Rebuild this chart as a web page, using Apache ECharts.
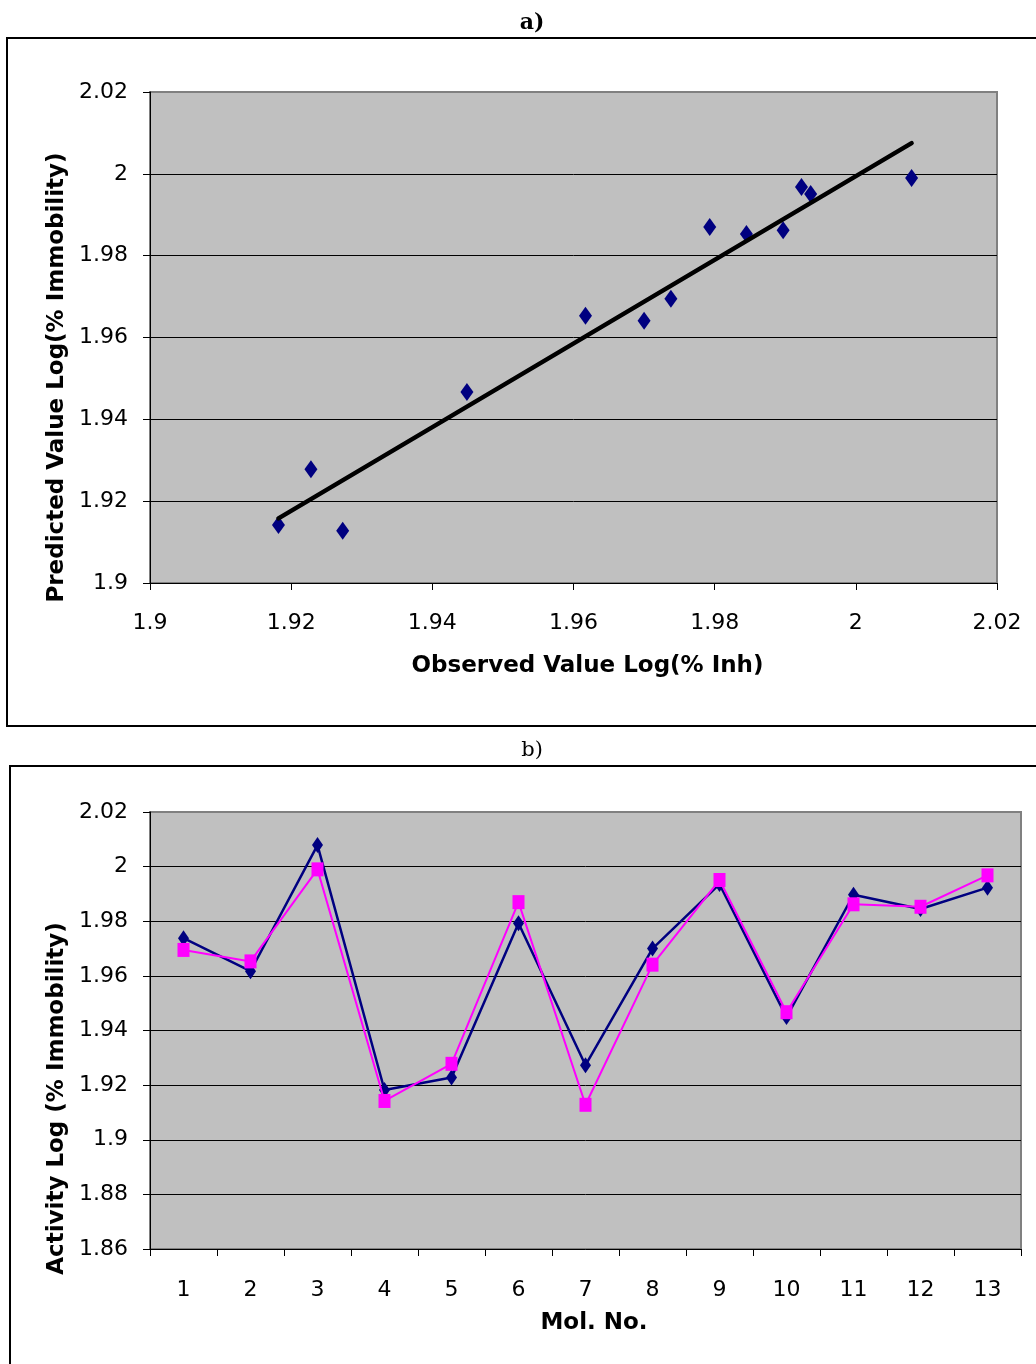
<!DOCTYPE html>
<html>
<head>
<meta charset="utf-8">
<script src="https://cdn.jsdelivr.net/npm/echarts@6/dist/echarts.min.js"></script>
<style>
html,body{margin:0;padding:0;background:#fff;}
#c{width:1036px;height:1364px;}
</style>
</head>
<body>
<div id="c"></div>
<script>
// Molecule numbers
var molNo = ['1','2','3','4','5','6','7','8','9','10','11','12','13'];
// Observed activity Log(% Immobility)
var observed = [1.9738, 1.9617, 2.0079, 1.9182, 1.9228, 1.9793, 1.9273, 1.9700, 1.9936, 1.9449, 1.9897, 1.9845, 1.9923];
// Predicted activity Log(% Immobility)
var predicted = [1.9695, 1.9653, 1.9990, 1.9142, 1.9278, 1.9870, 1.9128, 1.9641, 1.9951, 1.9467, 1.9862, 1.9853, 1.9968];
// Trendline end points read from chart a)
var trendX = [1.9182, 2.0079];
var trendY = [1.9158, 2.0075];
// Tick settings
var tickA = {min: 1.9, max: 2.02, interval: 0.02};
var tickB = {min: 1.86, max: 2.02, interval: 0.02};

var FONT = 'DejaVu Sans';
function fmt(v){ return String(parseFloat(Number(v).toFixed(2))); }

var scatterData = observed.map(function(x, i){ return [x, predicted[i]]; });
var trendData = trendX.map(function(x, i){ return [x, trendY[i]]; });

var labelStyle = {color:'#000', fontFamily: FONT, fontSize: 22};
var nameStyle = {color:'#000', fontFamily: FONT, fontSize: 23, fontWeight:'bold'};
var lineBlack = {show:true, lineStyle:{color:'#000', width:1}};
var tick = {show:true, length:7, lineStyle:{color:'#000', width:1}};

var chart = echarts.init(document.getElementById('c'), null, {renderer:'canvas'});
chart.setOption({
  backgroundColor:'#fff',
  animation:false,
  title:[
    {text:'a)', left:527, top:7, textAlign:'center',
     textStyle:{fontFamily:'DejaVu Serif', fontSize:22, fontWeight:'bold', color:'#000'}},
    {text:'b)', left:527, top:735, textAlign:'center',
     textStyle:{fontFamily:'DejaVu Serif', fontSize:21, fontWeight:'normal', color:'#000'}}
  ],
  graphic:[
    {type:'rect', shape:{x:7, y:38, width:1100, height:688}, style:{fill:'none', stroke:'#000', lineWidth:2}, z:0},
    {type:'rect', shape:{x:10, y:766, width:1100, height:700}, style:{fill:'none', stroke:'#000', lineWidth:2}, z:0}
  ],
  grid:[
    {left:150, top:92, width:847, height:491, show:true, backgroundColor:'#C0C0C0', borderColor:'#808080', borderWidth:2},
    {left:150, top:812, width:871, height:437, show:true, backgroundColor:'#C0C0C0', borderColor:'#808080', borderWidth:2}
  ],
  xAxis:[
    {type:'value', gridIndex:0, min:tickA.min, max:tickA.max, interval:tickA.interval,
     name:'Observed Value Log(% Inh)', nameLocation:'middle', nameGap:72,
     nameTextStyle:Object.assign({padding:[0,0,0,28]}, nameStyle),
     axisLine:lineBlack, axisTick:tick, splitLine:{show:false},
     axisLabel:Object.assign({margin:29, formatter:fmt}, labelStyle)},
    {type:'category', gridIndex:1, data:molNo, boundaryGap:true,
     name:'Mol. No.', nameLocation:'middle', nameGap:63,
     nameTextStyle:Object.assign({padding:[0,0,0,17]}, nameStyle),
     axisLine:lineBlack, axisTick:tick, splitLine:{show:false},
     axisLabel:Object.assign({margin:30, interval:0}, labelStyle)}
  ],
  yAxis:[
    {type:'value', gridIndex:0, min:tickA.min, max:tickA.max, interval:tickA.interval,
     name:'Predicted Value Log(% Immobility)', nameLocation:'middle', nameGap:80, nameRotate:90,
     nameTextStyle:Object.assign({padding:[0,80,0,0]}, nameStyle),
     axisLine:lineBlack, axisTick:tick,
     splitLine:{show:true, showMinLine:false, showMaxLine:false, lineStyle:{color:'#000', width:1}},
     axisLabel:Object.assign({margin:22, formatter:fmt}, labelStyle)},
    {type:'value', gridIndex:1, min:tickB.min, max:tickB.max, interval:tickB.interval,
     name:'Activity Log (% Immobility)', nameLocation:'middle', nameGap:78, nameRotate:90,
     nameTextStyle:Object.assign({padding:[0,136,0,0]}, nameStyle),
     axisLine:lineBlack, axisTick:tick,
     splitLine:{show:true, showMinLine:false, showMaxLine:false, lineStyle:{color:'#000', width:1}},
     axisLabel:Object.assign({margin:22, formatter:fmt}, labelStyle)}
  ],
  series:[
    {type:'scatter', xAxisIndex:0, yAxisIndex:0, data:scatterData,
     symbol:'diamond', symbolSize:[13,18], itemStyle:{color:'#000080', opacity:1}, z:3},
    {type:'line', xAxisIndex:0, yAxisIndex:0, data:trendData, showSymbol:false, symbol:'none',
     lineStyle:{color:'#000', width:4.5, cap:'round'}, z:4},
    {type:'line', xAxisIndex:1, yAxisIndex:1, data:observed, symbol:'diamond', symbolSize:[11,16],
     showAllSymbol:true, lineStyle:{color:'#000080', width:2.5}, itemStyle:{color:'#000080', opacity:1}, z:3},
    {type:'line', xAxisIndex:1, yAxisIndex:1, data:predicted, symbol:'rect', symbolSize:[12,14],
     showAllSymbol:true, lineStyle:{color:'#FF00FF', width:2}, itemStyle:{color:'#FF00FF', opacity:1}, z:4}
  ]
});
</script>
</body>
</html>
